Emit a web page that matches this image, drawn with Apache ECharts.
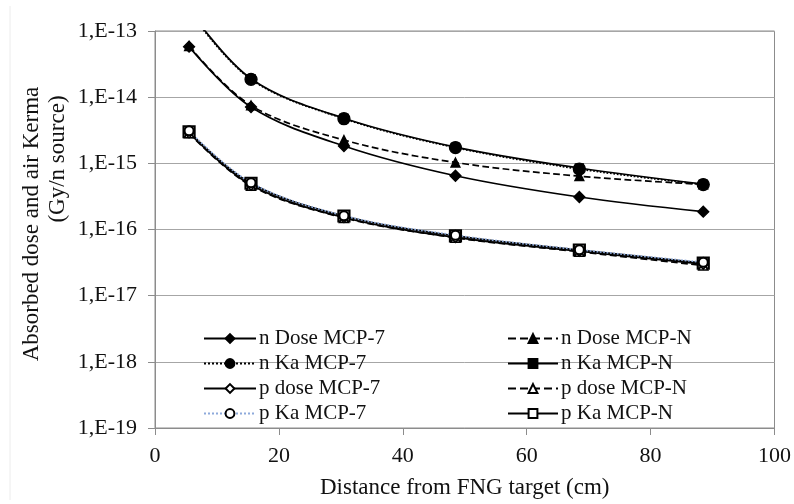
<!DOCTYPE html>
<html style="height: 100%">
<head>
<meta charset="utf-8">
<script src="https://cdn.jsdelivr.net/npm/echarts@6/dist/echarts.min.js"></script>
</head>
<body style="height: 100%; margin: 0; background: #fff">
<div id="container" style="width: 794px; height: 504px"></div>
<script type="text/javascript">
// distances (cm)
var distance = [5.5, 15.5, 30.5, 48.5, 68.5, 88.5];

// neutron curves
var nDose7 = [5.8e-14, 7.1e-15, 1.83e-15, 6.5e-16, 3.1e-16, 1.86e-16];
var nDoseN = [5.9e-14, 7.5e-15, 2.25e-15, 1.03e-15, 6.4e-16, 4.8e-16];
var nKa7   = [2.0e-13, 1.86e-14, 4.73e-15, 1.73e-15, 8.2e-16, 4.77e-16];
var nKaN   = [2.1e-13, 1.9e-14, 4.8e-15, 1.76e-15, 8.5e-16, 4.85e-16];
// photon curves
var pDose7 = [2.9e-15, 4.7e-16, 1.52e-16, 7.6e-17, 4.7e-17, 3.0e-17];
var pDoseN = [2.85e-15, 4.6e-16, 1.5e-16, 7.5e-17, 4.6e-17, 2.85e-17];
var pKa7   = [3.1e-15, 5.1e-16, 1.62e-16, 8.2e-17, 4.95e-17, 3.2e-17];
var pKaN   = [3.0e-15, 5.0e-16, 1.6e-16, 8.0e-17, 4.9e-17, 3.1e-17];

var yTickLabels = {'-13': '1,E-13', '-14': '1,E-14', '-15': '1,E-15', '-16': '1,E-16',
                   '-17': '1,E-17', '-18': '1,E-18', '-19': '1,E-19'};
var xTicks = [0, 20, 40, 60, 80, 100];

var FONT = 'Liberation Serif';

function pairs(ys) {
    return ys.map(function (v, i) { return [distance[i], v]; });
}

function mk(name, data, symbol, size, fill, lineType, lineColor, bw) {
    return {
        name: name,
        type: 'line',
        smooth: 0.35,
        data: pairs(data),
        symbol: symbol,
        symbolSize: size,
        clip: true,
        itemStyle: { color: fill, borderColor: '#000', borderWidth: bw || 1.3 },
        lineStyle: { color: lineColor || '#000', width: 1.7, type: lineType },
        emphasis: { disabled: true }
    };
}

var dom = document.getElementById('container');
var myChart = echarts.init(dom);

var option = {
    animation: false,
    backgroundColor: '#fff',
    grid: { left: 155, right: 19, top: 31, bottom: 72, show: true, borderColor: '#8c8c8c', borderWidth: 1 },
    xAxis: {
        type: 'value',
        min: 0, max: 100, interval: 20,
        name: 'Distance from FNG target (cm)',
        nameLocation: 'middle',
        nameGap: 48,
        nameTextStyle: { fontFamily: FONT, fontSize: 23, color: '#111' },
        axisLine: { onZero: false, lineStyle: { color: '#8c8c8c', width: 1 } },
        axisTick: { show: true, inside: false, length: 7, lineStyle: { color: '#8c8c8c' } },
        axisLabel: {
            fontFamily: FONT, fontSize: 22, color: '#111', margin: 17,
            formatter: function (v) { return xTicks.indexOf(v) >= 0 ? String(v) : ''; }
        },
        splitLine: { show: false }
    },
    yAxis: {
        type: 'log',
        logBase: 10,
        min: 1e-19, max: 1e-13,
        axisLine: { show: true, lineStyle: { color: '#8c8c8c', width: 1 } },
        axisTick: { show: true, inside: false, length: 7, lineStyle: { color: '#8c8c8c' } },
        axisLabel: {
            fontFamily: FONT, fontSize: 22, color: '#111', margin: 18,
            formatter: function (v) {
                var e = Math.round(Math.log10(v));
                return yTickLabels[String(e)] || '';
            }
        },
        splitLine: { show: true, lineStyle: { color: '#a6a6a6', width: 1 } }
    },
    legend: [
        {
            orient: 'vertical', left: 198, top: 323,
            itemWidth: 52, itemHeight: 11, itemGap: 4,
            textStyle: { fontFamily: FONT, fontSize: 21, color: '#111', padding: [0, 0, 0, -2] },
            data: ['n Dose MCP-7', 'n Ka MCP-7', 'p dose MCP-7', 'p Ka MCP-7']
        },
        {
            orient: 'vertical', left: 502, top: 323,
            itemWidth: 50, itemHeight: 11, itemGap: 4,
            textStyle: { fontFamily: FONT, fontSize: 21, color: '#111', padding: [0, 0, 0, -2] },
            data: ['n Dose MCP-N', 'n Ka MCP-N', 'p dose MCP-N', 'p Ka MCP-N']
        }
    ],
    graphic: [
        { type: 'line', shape: { x1: 10, y1: 6, x2: 10, y2: 500 }, style: { stroke: '#ececec', lineWidth: 1 } },
        {
            type: 'text', x: 32, y: 224, rotation: Math.PI / 2,
            style: { text: 'Absorbed dose and air Kerma', font: '23px "Liberation Serif"', fill: '#111',
                     textAlign: 'center', textVerticalAlign: 'middle' }
        },
        {
            type: 'text', x: 58, y: 159, rotation: Math.PI / 2,
            style: { text: '(Gy/n source)', font: '23px "Liberation Serif"', fill: '#111',
                     textAlign: 'center', textVerticalAlign: 'middle' }
        }
    ],
    series: [
        mk('p Ka MCP-N', pKaN, 'rect', 11, '#fff', 'solid', null, 2.2),
        mk('p dose MCP-N', pDoseN, 'triangle', 9, '#fff', 'dashed', null, 1.6),
        mk('p dose MCP-7', pDose7, 'diamond', 10, '#fff', 'solid', null, 1.6),
        mk('p Ka MCP-7', pKa7, 'circle', 9, '#fff', 'dotted', '#8eaadb', 2),
        mk('n Ka MCP-N', nKaN, 'rect', 8, '#000', 'solid'),
        mk('n Ka MCP-7', nKa7, 'circle', 12, '#000', 'dotted'),
        mk('n Dose MCP-N', nDoseN, 'triangle', 9, '#000', 'dashed'),
        mk('n Dose MCP-7', nDose7, 'diamond', 11, '#000', 'solid')
    ]
};

if (option && typeof option === 'object') {
    myChart.setOption(option, true);
}
</script>
</body>
</html>
